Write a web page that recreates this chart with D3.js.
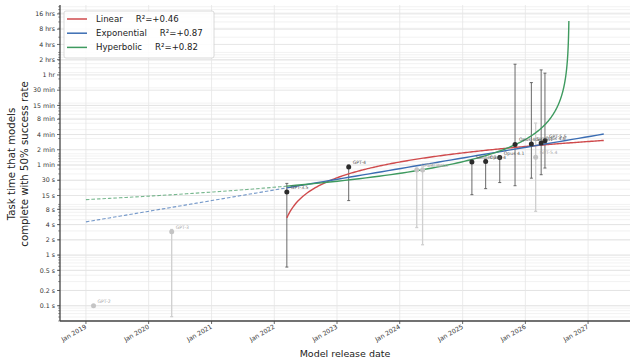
<!DOCTYPE html>
<html>
<head>
<meta charset="utf-8">
<script src="https://d3js.org/d3.v7.min.js"></script>
<style>
  body { margin: 0; background: #fff; }
  text { font-family: "DejaVu Sans", sans-serif; }
</style>
</head>
<body>
<svg width="637" height="364"></svg>
<script>
// measured points (50% time horizon, seconds) with confidence interval
const models = ["GPT-2", "GPT-3", "GPT-3.5", "GPT-4", "GPT-4 Turbo", "GPT-4o", "Sonnet 3.7", "Opus 4",
  "Opus 4.1", "Opus 4.5", "GPT-5.1", "Opus 4.6", "GPT-5.5", "GPT-5.4"]
const releaseDates = ["2019-02-14", "2020-05-14", "2022-03-15", "2023-03-10", "2024-04-09", "2024-05-13",
  "2025-02-24", "2025-05-15", "2025-08-05", "2025-11-02", "2026-02-05", "2026-04-03", "2026-04-25", "2026-03-02"]
const taskSeconds = [0.1, 2.9, 17.6, 55, 48, 48, 69, 70, 84, 153, 155, 163, 180, 85]
const ciLow = [0.1, 0.061, 0.58, 11.9, 3.5, 1.6, 15.6, 20.5, 27, 23.4, 33, 38.6, 52.3, 7.3]
const ciHigh = [0.1, 3.2, 26, 60, 52, 52, 75, 78, 90, 5860, 2540, 4520, 3900, 403]
const frontier = [false, false, true, true, false, false, true, true, true, true, true, true, true, false]

// fits
const fitNames = ["Linear", "Exponential", "Hyperbolic"]
const fitR2 = ["R²=+0.46", "R²=+0.87", "R²=+0.82"]
const fitColors = ["#cf4a4c", "#3b6db3", "#3e9a5f"]
const linSlope = 35.2, linZero = 2022.046        // seconds per year, year where it hits 0
const expBase = 4.52, expFrom = 2019, expDoubling = 1.432
const hypA = 127.5, hypTc = 2026.70, hypK = 1.14, hypMax = 41700
const fitStart = 2022.2, fitEnd = 2027.25, extrapStart = 2019.0

const yTickValues = [0.1, 0.2, 0.5, 1, 2, 4, 8, 15, 30, 60, 120, 240, 480, 900, 1800, 3600, 7200, 14400, 28800, 57600]
const yTickLabels = ["0.1 s", "0.2 s", "0.5 s", "1 s", "2 s", "4 s", "8 s", "15 s", "30 s", "1 min", "2 min",
  "4 min", "8 min", "15 min", "30 min", "1 hr", "2 hrs", "4 hrs", "8 hrs", "16 hrs"]

const mLeft = 60, mRight = 630, mTop = 5, mBottom = 321
const svg = d3.select("svg")

function yearToDate(yv) {
  const yr = Math.floor(yv)
  const a = Date.UTC(yr, 0, 1), b = Date.UTC(yr + 1, 0, 1)
  return new Date(a + (yv - yr) * (b - a))
}
const parse = d3.utcParse("%Y-%m-%d")

const x = d3.scaleUtc()
  .domain([new Date(Date.UTC(2018, 7, 3)), new Date(Date.UTC(2027, 8, 2))])
  .range([mLeft, mRight])
const y = d3.scaleLog().domain([0.05, 86400]).range([mBottom, mTop])

// grid
const minorVals = y.ticks().filter(v => v >= 0.05 && v <= 86400)
svg.append("g").selectAll("line").data(minorVals).enter().append("line")
  .attr("x1", mLeft).attr("x2", mRight)
  .attr("y1", d => y(d)).attr("y2", d => y(d))
  .attr("stroke", "#ececec").attr("stroke-width", 0.7)
svg.append("g").selectAll("line").data(yTickValues).enter().append("line")
  .attr("x1", mLeft).attr("x2", mRight)
  .attr("y1", d => y(d)).attr("y2", d => y(d))
  .attr("stroke", "#e0e0e0").attr("stroke-width", 0.8)
const years = d3.utcYear.range(new Date(Date.UTC(2019, 0, 1)), new Date(Date.UTC(2027, 1, 1)))
svg.append("g").selectAll("line").data(years).enter().append("line")
  .attr("x1", d => x(d)).attr("x2", d => x(d))
  .attr("y1", mTop).attr("y2", mBottom)
  .attr("stroke", "#e6e6e6").attr("stroke-width", 0.8)

svg.append("clipPath").attr("id", "plot").append("rect")
  .attr("x", mLeft).attr("y", mTop).attr("width", mRight - mLeft).attr("height", mBottom - mTop)
const plot = svg.append("g").attr("clip-path", "url(#plot)")

// fit curves
function sample(t0, t1, n) { return d3.range(n + 1).map(i => t0 + (t1 - t0) * i / n) }
const linFn = t => linSlope * (t - linZero)
const expFn = t => expBase * Math.pow(2, (t - expFrom) / expDoubling)
const hypFn = t => hypA * Math.pow(hypTc - t, -hypK)
function hypSample(t0) {
  const d0 = hypTc - t0, d1 = Math.pow(hypA / hypMax, 1 / hypK)
  return d3.range(201).map(i => hypTc - d0 * Math.pow(d1 / d0, i / 200))
}
const line = d3.line().x(d => x(yearToDate(d[0]))).y(d => y(d[1]))

// dashed extrapolation (back to 2019)
plot.append("path").datum(sample(extrapStart, fitStart, 60).map(t => [t, hypFn(t)]))
  .attr("d", line).attr("fill", "none").attr("stroke", fitColors[2]).attr("stroke-width", 1.1)
  .attr("stroke-dasharray", "3.5,2").attr("opacity", 0.7)
plot.append("path").datum(sample(extrapStart, fitStart, 60).map(t => [t, expFn(t)]))
  .attr("d", line).attr("fill", "none").attr("stroke", fitColors[1]).attr("stroke-width", 1.1)
  .attr("stroke-dasharray", "3.5,2").attr("opacity", 0.7)

// error bars
const pts = models.map((m, i) => ({ m, d: parse(releaseDates[i]), v: taskSeconds[i], lo: ciLow[i], hi: ciHigh[i], f: frontier[i] }))
const order = pts.slice().sort((a, b) => a.f - b.f)
const eb = plot.append("g").selectAll("g").data(order.filter(p => p.hi > p.lo)).enter().append("g")
  .attr("stroke", p => p.f ? "#5a5a5a" : "#cfcfcf").attr("stroke-width", p => p.f ? 0.9 : 1.3)
eb.append("line").attr("x1", p => x(p.d)).attr("x2", p => x(p.d)).attr("y1", p => y(p.lo)).attr("y2", p => y(p.hi))
eb.append("line").attr("x1", p => x(p.d) - 1.5).attr("x2", p => x(p.d) + 1.5).attr("y1", p => y(p.lo)).attr("y2", p => y(p.lo))
eb.append("line").attr("x1", p => x(p.d) - 1.5).attr("x2", p => x(p.d) + 1.5).attr("y1", p => y(p.hi)).attr("y2", p => y(p.hi))

// solid fits
plot.append("path").datum(sample(fitStart, fitEnd, 200).map(t => [t, linFn(t)]))
  .attr("d", line).attr("fill", "none").attr("stroke", fitColors[0]).attr("stroke-width", 1.4)
plot.append("path").datum(sample(fitStart, fitEnd, 50).map(t => [t, expFn(t)]))
  .attr("d", line).attr("fill", "none").attr("stroke", fitColors[1]).attr("stroke-width", 1.4)
plot.append("path").datum(hypSample(fitStart).map(t => [t, hypFn(t)]))
  .attr("d", line).attr("fill", "none").attr("stroke", fitColors[2]).attr("stroke-width", 1.4)

// points + labels
plot.append("g").selectAll("circle").data(order).enter().append("circle")
  .attr("cx", p => x(p.d)).attr("cy", p => y(p.v)).attr("r", 2.5)
  .attr("fill", p => p.f ? "#2b2b2b" : "#c4c4c4")
plot.append("g").selectAll("text").data(order).enter().append("text")
  .attr("x", p => x(p.d) + 4).attr("y", p => y(p.v) - 3)
  .attr("font-size", 4.6).attr("fill", p => p.f ? "#555" : "#aaa")
  .text(p => p.m)

// axes
svg.append("line").attr("x1", mLeft).attr("x2", mLeft).attr("y1", mTop).attr("y2", mBottom)
  .attr("stroke", "#444").attr("stroke-width", 1.3)
svg.append("line").attr("x1", mLeft).attr("x2", mRight).attr("y1", mBottom).attr("y2", mBottom)
  .attr("stroke", "#444").attr("stroke-width", 1.3)
svg.append("g").selectAll("line").data(minorVals).enter().append("line")
  .attr("x1", mLeft - 1.8).attr("x2", mLeft).attr("y1", d => y(d)).attr("y2", d => y(d))
  .attr("stroke", "#444").attr("stroke-width", 0.6)
const yt = svg.append("g").selectAll("g").data(yTickValues).enter().append("g")
yt.append("line").attr("x1", mLeft - 3).attr("x2", mLeft).attr("y1", d => y(d)).attr("y2", d => y(d))
  .attr("stroke", "#444").attr("stroke-width", 0.8)
yt.append("text").attr("x", mLeft - 5).attr("y", d => y(d)).attr("dy", "0.35em")
  .attr("text-anchor", "end").attr("font-size", 6.3).attr("fill", "#333")
  .text((d, i) => yTickLabels[i])
const xt = svg.append("g").selectAll("g").data(years).enter().append("g")
xt.append("line").attr("x1", d => x(d)).attr("x2", d => x(d)).attr("y1", mBottom).attr("y2", mBottom + 3)
  .attr("stroke", "#444").attr("stroke-width", 0.8)
xt.append("text").attr("transform", d => `translate(${x(d) + 1},${mBottom + 7}) rotate(-30)`)
  .attr("text-anchor", "end").attr("font-size", 6.3).attr("fill", "#333")
  .text(d => d3.utcFormat("Jan %Y")(d))

svg.append("text").attr("x", (mLeft + mRight) / 2).attr("y", 357).attr("text-anchor", "middle")
  .attr("font-size", 9.5).attr("fill", "#222").text("Model release date")
const yl = svg.append("text").attr("transform", "translate(15,164) rotate(-90)")
  .attr("text-anchor", "middle").attr("font-size", 10.2).attr("fill", "#222")
yl.append("tspan").attr("x", 0).attr("dy", 0).text("Task time that models")
yl.append("tspan").attr("x", 0).attr("dy", 12.5).text("complete with 50% success rate")

// legend
const lg = svg.append("g")
lg.append("rect").attr("x", 64).attr("y", 11).attr("width", 150).attr("height", 47).attr("rx", 2)
  .attr("fill", "#fff").attr("fill-opacity", 0.85).attr("stroke", "#d0d0d0").attr("stroke-width", 0.8)
fitNames.forEach((n, i) => {
  const cy = 19 + i * 14.2
  lg.append("line").attr("x1", 67).attr("x2", 87).attr("y1", cy).attr("y2", cy)
    .attr("stroke", fitColors[i]).attr("stroke-width", 1.5)
  const t = lg.append("text").attr("x", 96).attr("y", cy).attr("dy", "0.35em")
    .attr("font-size", 8.6).attr("fill", "#222").text(n)
  const w = t.node().getComputedTextLength()
  lg.append("text").attr("x", 96 + w + 13).attr("y", cy).attr("dy", "0.35em")
    .attr("font-size", 8.6).attr("fill", "#222").text(fitR2[i])
})
</script>
</body>
</html>
